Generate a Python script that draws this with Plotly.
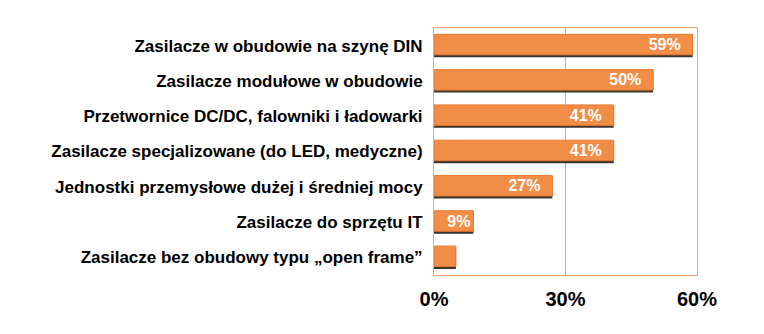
import plotly.graph_objects as go

categories = [
    "Zasilacze w obudowie na szynę DIN",
    "Zasilacze modułowe w obudowie",
    "Przetwornice DC/DC, falowniki i ładowarki",
    "Zasilacze specjalizowane (do LED, medyczne)",
    "Jednostki przemysłowe dużej i średniej mocy",
    "Zasilacze do sprzętu IT",
    "Zasilacze bez obudowy typu „open frame”",
]
values = [59, 50, 41, 41, 27, 9, 5]
labels = ["59%", "50%", "41%", "41%", "27%", "9%", ""]
tick_vals = [0, 30, 60]
tick_text = ["0%", "30%", "60%"]


def padded(t, v):
    if not t:
        return ""
    return t + ("\u00a0\u00a0" if v > 15 else "")


fig = go.Figure()
# shadow
fig.add_trace(go.Bar(
    y=categories, x=values, orientation="h",
    marker=dict(color="#3a3530", line=dict(width=0)),
    width=0.6, offset=-0.27,
    hoverinfo="skip", showlegend=False,
))
fig.add_trace(go.Bar(
    y=categories, x=values, orientation="h",
    marker=dict(color="#F18D47", line=dict(color="#E67A30", width=1)),
    width=0.58, offset=-0.32,
    text=[padded(t, v) for t, v in zip(labels, values)],
    textposition="inside", insidetextanchor="end",
    textfont=dict(family="Liberation Sans, Arial", size=16, color="white", weight="bold"),
    showlegend=False,
))

fig.update_layout(
    width=764, height=334,
    margin=dict(l=434, r=67, t=28, b=59),
    paper_bgcolor="white", plot_bgcolor="white",
    barmode="overlay",
    uniformtext=dict(minsize=16, mode="show"),
    font=dict(family="Liberation Sans, Arial", color="black"),
)
fig.update_xaxes(
    range=[0, 60], tickvals=tick_vals, ticktext=tick_text,
    tickfont=dict(size=20, weight="bold", color="black"),
    showgrid=True, gridcolor="#F4A772", gridwidth=1,
    showline=True, linecolor="#F4A772", linewidth=1, mirror=True,
    zeroline=False, ticks="", ticklabelstandoff=6,
)
fig.update_yaxes(
    autorange="reversed",
    tickfont=dict(size=17, weight="bold", color="black"),
    showline=True, linecolor="#F4A772", linewidth=1, mirror=True,
    ticks="", ticklabelstandoff=7,
)
fig.write_html("out.html")
